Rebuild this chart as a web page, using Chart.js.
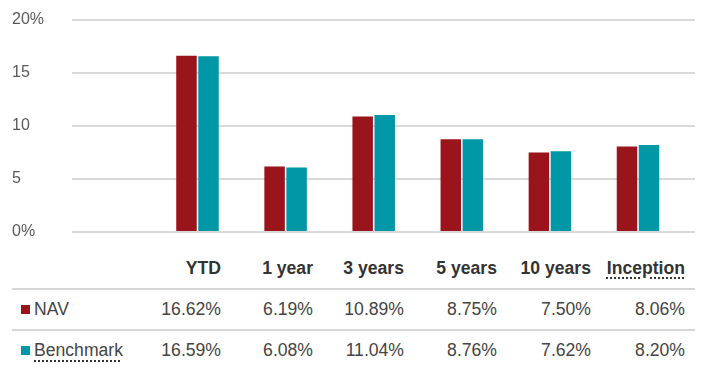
<!DOCTYPE html>
<html>
<head>
<meta charset="utf-8">
<script src="https://cdn.jsdelivr.net/npm/chart.js@4"></script>
<style>
  html, body { margin: 0; padding: 0; background: #fff; }
  body { width: 703px; height: 387px; position: relative; overflow: hidden; font-family: "Liberation Sans", Arial, sans-serif; }
  #wrap { position: absolute; left: 0; top: 0; width: 703px; height: 244px; }
  table { position: absolute; left: 12px; top: 248px; width: 683px; border-collapse: collapse; table-layout: fixed; font-size: 17.6px; color: #444; }
  td, th { padding: 0 10px 0 0; text-align: right; white-space: nowrap; }
  thead th { height: 40px; font-weight: bold; color: #333; border-bottom: 2px solid #d6d6d6; }
  tbody tr.r1 td { height: 39px; border-bottom: 2px solid #d6d6d6; }
  tbody tr.r2 td { height: 39px; }
  td.lab { text-align: left; padding-left: 9px; color: #444; }
  .sw { display: inline-block; width: 9px; height: 9px; margin-right: 4px; vertical-align: 1px; }
  .dot { text-decoration: underline dotted #333; text-decoration-thickness: 2px; text-underline-offset: 4px; }
</style>
</head>
<body>
<div id="wrap"><canvas id="c" width="703" height="244"></canvas></div>
<table id="t">
  <colgroup>
    <col style="width:119px"><col style="width:100px"><col style="width:92px"><col style="width:91px"><col style="width:93px"><col style="width:94px"><col style="width:94px">
  </colgroup>
  <thead><tr id="hdr"><th></th></tr></thead>
  <tbody>
    <tr class="r1" id="row1"></tr>
    <tr class="r2" id="row2"></tr>
  </tbody>
</table>
<script>
const categories = ['YTD', '1 year', '3 years', '5 years', '10 years', 'Inception'];
const navValues = [16.62, 6.19, 10.89, 8.75, 7.50, 8.06];
const benchmarkValues = [16.59, 6.08, 11.04, 8.76, 7.62, 8.20];
const seriesNames = ['NAV', 'Benchmark'];
const seriesColors = ['#9a141c', '#0098a7'];
const yTicks = [0, 5, 10, 15, 20];

// positions on the index axis (category index + 1)
const xIdx = categories.map((c, i) => i + 1);

new Chart(document.getElementById('c'), {
  type: 'bar',
  data: {
    datasets: [
      { label: seriesNames[0], data: navValues.map((v, i) => ({ x: xIdx[i], y: v })), backgroundColor: seriesColors[0] },
      { label: seriesNames[1], data: benchmarkValues.map((v, i) => ({ x: xIdx[i], y: v })), backgroundColor: seriesColors[1] }
    ]
  },
  options: {
    responsive: false,
    animation: false,
    devicePixelRatio: 1,
    categoryPercentage: 0.5,
    barPercentage: 0.93,
    layout: { padding: { left: 12, right: 8, top: 20, bottom: 12 } },
    plugins: { legend: { display: false }, tooltip: { enabled: false } },
    scales: {
      x: {
        type: 'linear',
        display: false,
        offset: false,
        bounds: 'data',
        min: -0.4245,
        max: 6.647,
        afterBuildTicks: s => { s.ticks = xIdx.map(v => ({ value: v })); }
      },
      y: {
        min: 0,
        max: 20,
        afterBuildTicks: s => { s.ticks = yTicks.map(v => ({ value: v })); },
        afterFit: s => { s.width = 60; },
        border: { display: false },
        grid: { color: '#d9d9d9', lineWidth: 2, drawTicks: false, tickLength: 0 },
        ticks: {
          crossAlign: 'far',
          padding: 0,
          color: '#595959',
          font: { family: '"Liberation Sans", Arial, sans-serif', size: 16 },
          callback: v => (v === 0 || v === 20) ? v + '%' : String(v)
        }
      }
    }
  }
});

// table
const hdr = document.getElementById('hdr');
categories.forEach(c => {
  const th = document.createElement('th');
  if (c === 'Inception') th.innerHTML = '<span class="dot">' + c + '</span>';
  else th.textContent = c;
  hdr.appendChild(th);
});
[[document.getElementById('row1'), navValues, 0], [document.getElementById('row2'), benchmarkValues, 1]].forEach(([tr, vals, k]) => {
  const lab = document.createElement('td');
  lab.className = 'lab';
  const name = k === 1 ? '<span class="dot">' + seriesNames[k] + '</span>' : seriesNames[k];
  lab.innerHTML = '<span class="sw" style="background:' + seriesColors[k] + '"></span>' + name;
  tr.appendChild(lab);
  vals.forEach(v => {
    const td = document.createElement('td');
    td.textContent = v.toFixed(2) + '%';
    tr.appendChild(td);
  });
});
</script>
</body>
</html>
